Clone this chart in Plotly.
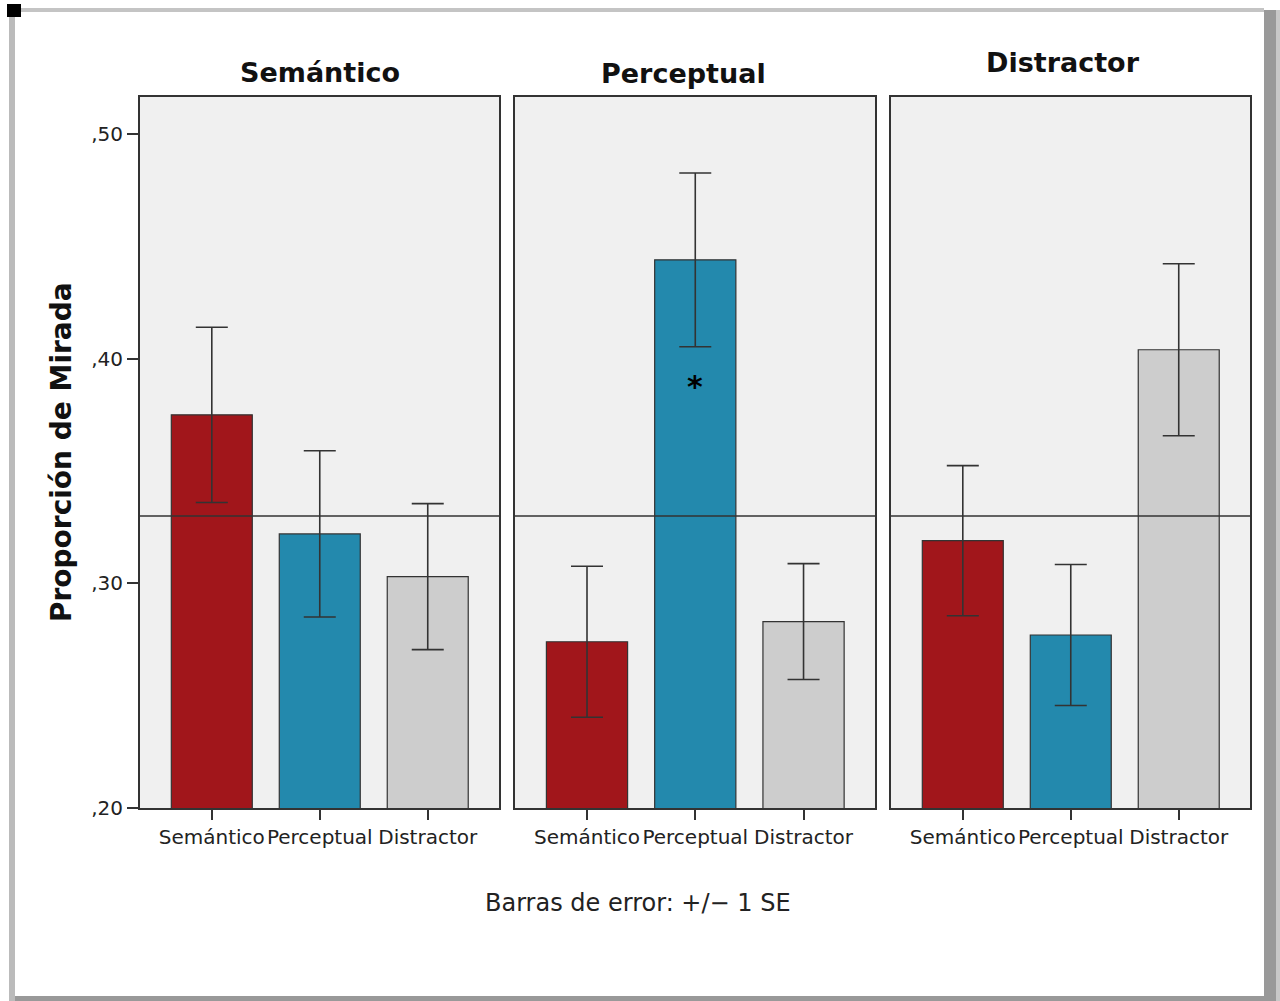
import plotly.graph_objects as go

W, H = 1280, 1001
FIG_H = 1013  # rendered height; the photographed page is squeezed to 1001

panels = ["Semántico", "Perceptual", "Distractor"]
categories = ["Semántico", "Perceptual", "Distractor"]
means = [
    [0.375, 0.322, 0.303],
    [0.274, 0.444, 0.283],
    [0.319, 0.277, 0.404],
]
se = [
    [0.039, 0.037, 0.0325],
    [0.0336, 0.0387, 0.0258],
    [0.0334, 0.0314, 0.0383],
]
chance = 0.33
ytickvals = [0.2, 0.3, 0.4, 0.5]
yticktext = [",20", ",30", ",40", ",50"]
colors = ["#A1161B", "#2389AD", "#CDCDCD"]

FONT = "DejaVu Sans"
DARK = "#222222"

def px(x):
    return x / W

def py(y):
    return 1 - y / H

panel_px = [(140, 499), (515, 875), (891, 1250)]
ydom = [py(808), py(97)]

fig = go.Figure()
layout = dict(
    width=W, height=FIG_H,
    margin=dict(l=0, r=0, t=0, b=0),
    paper_bgcolor="white",
    plot_bgcolor="#F0F0F0",
    showlegend=False,
    font=dict(family=FONT, color=DARK),
)

for i, (x0, x1) in enumerate(panel_px):
    sfx = "" if i == 0 else str(i + 1)
    xa = "x" + sfx
    ya = "y" + sfx
    fig.add_trace(go.Bar(
        x=categories, y=means[i], width=0.75,
        marker=dict(color=colors, line=dict(color="#333333", width=1.2)),
        error_y=dict(type="data", array=se[i], visible=True,
                     color="#333333", thickness=1.6, width=16),
        xaxis=xa, yaxis=ya, hoverinfo="skip",
    ))
    layout["xaxis" + sfx] = dict(
        domain=[px(x0), px(x1)], anchor=ya,
        type="category", range=[-0.665, 2.66],
        showline=True, mirror=True, linecolor="#333333", linewidth=2,
        ticks="outside", ticklen=10, tickwidth=1.5, tickcolor="#333333",
        tickfont=dict(family=FONT, size=20, color=DARK),
        showgrid=False, zeroline=False, fixedrange=True,
    )
    layout["yaxis" + sfx] = dict(
        domain=ydom, anchor=xa,
        range=[0.2, 0.5165],
        showline=True, mirror=True, linecolor="#333333", linewidth=2,
        showgrid=False, zeroline=False, fixedrange=True,
        tickvals=ytickvals, ticktext=yticktext,
        ticks="outside" if i == 0 else "", ticklen=11, tickwidth=1.5,
        tickcolor="#333333",
        showticklabels=(i == 0),
        tickfont=dict(family=FONT, size=20, color=DARK),
    )

fig.update_layout(**layout)

# reference (chance) line in each panel
for i in range(3):
    sfx = "" if i == 0 else str(i + 1)
    fig.add_shape(type="line", xref="x" + sfx + " domain", yref="y" + sfx,
                  x0=0, x1=1, y0=chance, y1=chance,
                  line=dict(color="#333333", width=1.5))

# panel titles
title_pos = [(320, 72), (683, 74), (1063, 63)]
for t, (x, y) in zip(panels, title_pos):
    fig.add_annotation(text="<b>" + t + "</b>", xref="paper", yref="paper",
                       x=px(x), y=py(y), showarrow=False,
                       xanchor="center", yanchor="middle",
                       font=dict(family=FONT, size=27, color="#111111"))

# y axis title
fig.add_annotation(text="<b>Proporción de Mirada</b>", xref="paper", yref="paper",
                   x=px(61), y=py(452), showarrow=False, textangle=-90,
                   xanchor="center", yanchor="middle",
                   font=dict(family=FONT, size=28, color="#111111"))

# footnote
fig.add_annotation(text="Barras de error: +/\u2212 1 SE", xref="paper", yref="paper",
                   x=px(638), y=py(903), showarrow=False,
                   xanchor="center", yanchor="middle",
                   font=dict(family=FONT, size=24, color=DARK))

# significance asterisk
fig.add_annotation(text="<b>*</b>", xref="x2", yref="y2",
                   x="Perceptual", y=0.3875, showarrow=False,
                   xanchor="center", yanchor="middle",
                   font=dict(family=FONT, size=30, color="black"))

# page frame
frame = [
    dict(x0=9, x1=15, y0=8, y1=1001, c="#BBBBBB"),
    dict(x0=9, x1=1264, y0=8, y1=12, c="#C4C4C4"),
    dict(x0=1264, x1=1276, y0=10, y1=1001, c="#999999"),
    dict(x0=1276, x1=1280, y0=10, y1=1001, c="#C8C8C8"),
    dict(x0=15, x1=1276, y0=996, y1=1001, c="#999999"),
    dict(x0=7, x1=21, y0=4, y1=17, c="#000000"),
]
for f in frame:
    fig.add_shape(type="rect", xref="paper", yref="paper",
                  x0=px(f["x0"]), x1=px(f["x1"]), y0=py(f["y1"]), y1=py(f["y0"]),
                  fillcolor=f["c"], line=dict(width=0))

fig.write_html(
    "out.html",
    config={"displayModeBar": False},
    post_script=(
        "document.documentElement.style.margin='0';"
        "document.body.style.margin='0';"
        "document.body.style.overflow='hidden';"
    ),
)
